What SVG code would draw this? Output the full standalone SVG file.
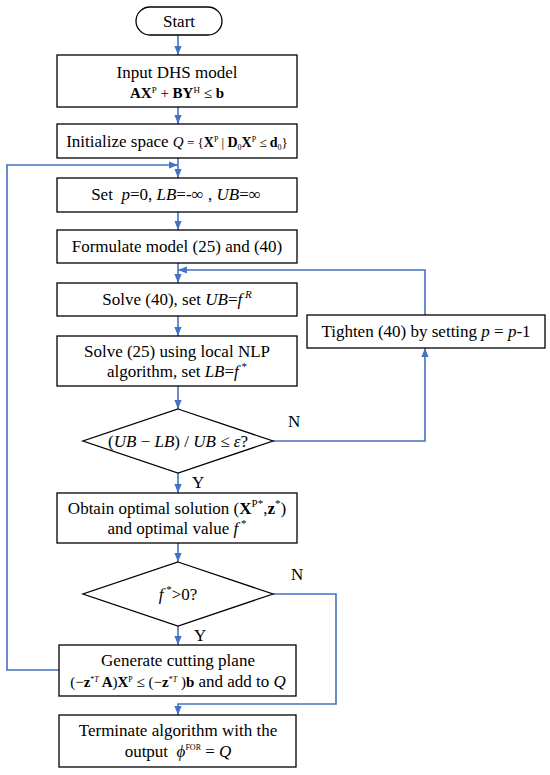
<svg xmlns="http://www.w3.org/2000/svg" width="550" height="775" viewBox="0 0 550 775">
<style>
.box{fill:#fff;stroke:#000;stroke-width:1.3}
.ln{fill:none;stroke:#4472C4;stroke-width:1.6}
.t{font-family:'Liberation Serif','Times New Roman','DejaVu Serif',serif;font-size:17px;fill:#000}
.m{text-anchor:middle}
.i{font-style:italic}
.b{font-weight:bold}
.s{font-size:11px}
</style>
<defs>
<marker id="a" viewBox="0 0 10 10" refX="10" refY="5" markerWidth="9" markerHeight="9" orient="auto" markerUnits="userSpaceOnUse">
<path d="M0,1 L10,5 L0,9 z" fill="#4472C4"/>
</marker>
</defs>
<rect width="550" height="775" fill="#fff"/>
<g id="connectors">
<line class="ln" x1="178" y1="35" x2="178" y2="55" marker-end="url(#a)"/>
<line class="ln" x1="178" y1="107" x2="178" y2="124" marker-end="url(#a)"/>
<line class="ln" x1="178" y1="158" x2="178" y2="178" marker-end="url(#a)"/>
<line class="ln" x1="178" y1="212" x2="178" y2="230" marker-end="url(#a)"/>
<line class="ln" x1="178" y1="263" x2="178" y2="283" marker-end="url(#a)"/>
<line class="ln" x1="178" y1="316" x2="178" y2="336" marker-end="url(#a)"/>
<line class="ln" x1="178" y1="386" x2="178" y2="409" marker-end="url(#a)"/>
<line class="ln" x1="178" y1="473" x2="178" y2="493" marker-end="url(#a)"/>
<line class="ln" x1="178" y1="543" x2="178" y2="562" marker-end="url(#a)"/>
<line class="ln" x1="178" y1="626" x2="178" y2="645" marker-end="url(#a)"/>
<polyline class="ln" points="273,441 425,441 425,348" marker-end="url(#a)"/>
<polyline class="ln" points="425,315 425,270 178,270" marker-end="url(#a)"/>
<polyline class="ln" points="273,594 336,594 336,704 178,704 178,715" marker-end="url(#a)"/>
<polyline class="ln" points="59,670 7,670 7,165 178,165" marker-end="url(#a)"/>
</g>
<g id="start">
<rect class="box" x="136" y="7" width="86" height="28" rx="14"/>
<text class="t m" x="179" y="27">Start</text>
</g>
<g id="input">
<rect class="box" x="57" y="55" width="240" height="52"/>
<text class="t m" x="177" y="78">Input DHS model</text>
<text class="t m" x="177" y="98" style="font-size:15px"><tspan class="b">AX</tspan><tspan style="font-size:9px" dy="-5">P</tspan><tspan dy="5"> + </tspan><tspan class="b">BY</tspan><tspan style="font-size:9px" dy="-5">H</tspan><tspan dy="5">  ≤ </tspan><tspan class="b">b</tspan></text>
</g>
<g id="init">
<rect class="box" x="57" y="124" width="240" height="34"/>
<text class="t m" x="177" y="147">Initialize space <tspan class="i" style="font-size:15px">Q</tspan><tspan style="font-size:13px"> = {</tspan><tspan class="b" style="font-size:14px">X</tspan><tspan style="font-size:8px" dy="-5">P</tspan><tspan style="font-size:13px" dy="5"> | </tspan><tspan class="b" style="font-size:14px">D</tspan><tspan style="font-size:8px" dy="3">0</tspan><tspan class="b" style="font-size:14px" dy="-3">X</tspan><tspan style="font-size:8px" dy="-5">P</tspan><tspan style="font-size:13px" dy="5"> ≤ </tspan><tspan class="b" style="font-size:14px">d</tspan><tspan style="font-size:8px" dy="3">0</tspan><tspan style="font-size:13px" dy="-3">}</tspan></text>
</g>
<g id="set">
<rect class="box" x="57" y="178" width="240" height="34"/>
<text class="t m" x="176" y="200">Set&#160; <tspan class="i">p</tspan>=0, <tspan class="i">LB</tspan>=-∞&#160;, <tspan class="i">UB</tspan>=∞</text>
</g>
<g id="formulate">
<rect class="box" x="57" y="230" width="240" height="33"/>
<text class="t m" x="177" y="252">Formulate model (25) and (40)</text>
</g>
<g id="solve40">
<rect class="box" x="57" y="283" width="240" height="33"/>
<text class="t m" x="177" y="305">Solve (40), set <tspan class="i">UB</tspan>=<tspan class="i">f</tspan><tspan class="i s" dy="-7"> R</tspan></text>
</g>
<g id="tighten">
<rect class="box" x="307" y="315" width="238" height="33"/>
<text class="t m" x="426" y="337">Tighten (40) by setting <tspan class="i">p</tspan> = <tspan class="i">p</tspan>-1</text>
</g>
<g id="solve25">
<rect class="box" x="57" y="336" width="240" height="50"/>
<text class="t m" x="177" y="357">Solve (25) using local NLP</text>
<text class="t m" x="177" y="377">algorithm, set <tspan class="i">LB</tspan>=<tspan class="i">f</tspan><tspan class="s" dy="-7"> *</tspan></text>
</g>
<g id="check1">
<polygon class="box" points="178,409 273,441 178,473 83,441"/>
<text class="t m" x="178" y="447">(<tspan class="i">UB</tspan> − <tspan class="i">LB</tspan>) / <tspan class="i">UB</tspan> ≤ <tspan class="i">ε</tspan>?</text>
<text class="t" x="288" y="427">N</text>
<text class="t" x="192" y="488">Y</text>
</g>
<g id="obtain">
<rect class="box" x="57" y="493" width="240" height="50"/>
<text class="t m" x="177" y="514">Obtain optimal solution (<tspan class="b">X</tspan><tspan class="s" dy="-7">P*</tspan><tspan dy="7">,</tspan><tspan class="b">z</tspan><tspan class="s" dy="-7">*</tspan><tspan dy="7">)</tspan></text>
<text class="t m" x="177" y="534">and optimal value <tspan class="i">f</tspan><tspan class="s" dy="-7"> *</tspan></text>
</g>
<g id="check2">
<polygon class="box" points="178,562 273,594 178,626 83,594"/>
<text class="t m" x="178" y="600"><tspan class="i">f</tspan><tspan class="s" dy="-7"> *</tspan><tspan dy="7">&gt;0?</tspan></text>
<text class="t" x="291" y="580">N</text>
<text class="t" x="194" y="641">Y</text>
</g>
<g id="generate">
<rect class="box" x="59" y="645" width="237" height="51"/>
<text class="t m" x="178" y="666">Generate cutting plane</text>
<text class="t m" x="178" y="687"><tspan style="font-size:15px">(−</tspan><tspan class="b" style="font-size:15px">z</tspan><tspan style="font-size:8px" dy="-5">*</tspan><tspan class="i" style="font-size:8px">T</tspan><tspan class="b" style="font-size:15px" dy="5"> A</tspan><tspan style="font-size:15px">)</tspan><tspan class="b" style="font-size:15px">X</tspan><tspan style="font-size:8px" dy="-5">P</tspan><tspan style="font-size:15px" dy="5"> ≤ (−</tspan><tspan class="b" style="font-size:15px">z</tspan><tspan style="font-size:8px" dy="-5">*</tspan><tspan class="i" style="font-size:8px">T</tspan><tspan style="font-size:15px" dy="5"> )</tspan><tspan class="b" style="font-size:15px">b</tspan> and add to <tspan class="i">Q</tspan></text>
</g>
<g id="terminate">
<rect class="box" x="59" y="715" width="237" height="52"/>
<text class="t m" x="178" y="736">Terminate algorithm with the</text>
<text class="t m" x="178" y="757">output&#160; <tspan class="i">ϕ</tspan><tspan style="font-size:8px" dy="-7">FOR</tspan><tspan dy="7"> = </tspan><tspan class="i">Q</tspan></text>
</g>
</svg>
